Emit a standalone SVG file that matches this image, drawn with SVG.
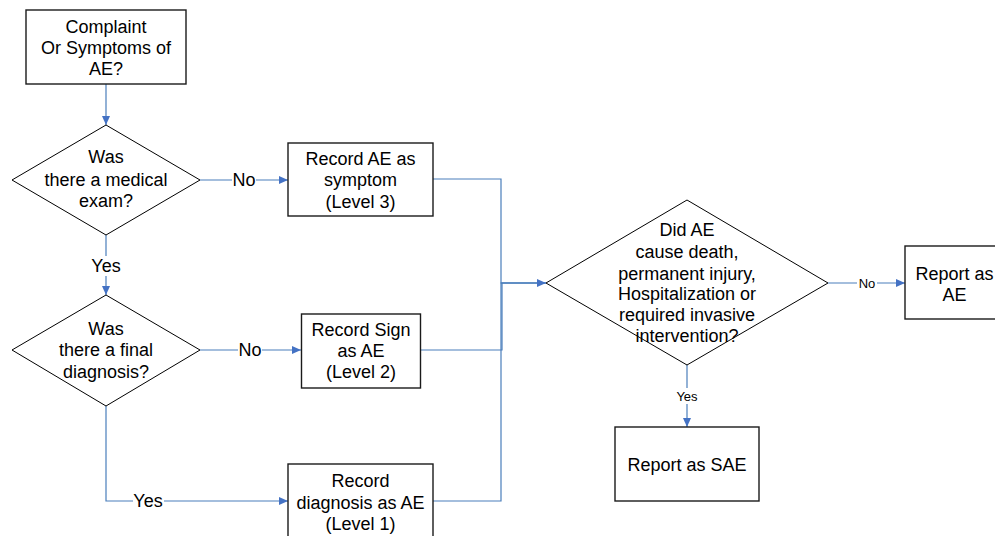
<svg xmlns="http://www.w3.org/2000/svg" width="995" height="536" viewBox="0 0 995 536">
<defs>
<style>
text{font-family:"Liberation Sans",Arial,sans-serif;font-size:18px;fill:#000;text-anchor:middle}
.sm{font-size:13px}
.box{fill:#fff;stroke:#1a1a1a;stroke-width:1.4}
.dia{fill:#fff;stroke:#000;stroke-width:1}
.c{fill:none;stroke:#4a7ebb;stroke-width:1.2}
.lb{fill:#fff;stroke:none}
</style>
<marker id="ah" markerWidth="10" markerHeight="10" refX="9" refY="5" orient="auto" markerUnits="userSpaceOnUse">
<path d="M0,1 L9,5 L0,9 Z" fill="#4472c4"/>
</marker>
</defs>
<rect width="995" height="536" fill="#fff"/>
<g id="connectors">
<path class="c" d="M106,84 V125" marker-end="url(#ah)"/>
<path class="c" d="M200,180 H288" marker-end="url(#ah)"/>
<path class="c" d="M106,235 V295" marker-end="url(#ah)"/>
<path class="c" d="M200,350 H301" marker-end="url(#ah)"/>
<path class="c" d="M106,406 V501 H288" marker-end="url(#ah)"/>
<path class="c" d="M433,179 H501 V283 H546" stroke="#95b3d7"/>
<path class="c" d="M433,501 H501 V283 H546" stroke="#95b3d7"/>
<path class="c" d="M420,350 H502 V283 H546" stroke-width="1.6" marker-end="url(#ah)"/>
<path class="c" d="M828,283 H905" stroke="#95b3d7" marker-end="url(#ah)"/>
<path class="c" d="M687,365 V427" marker-end="url(#ah)"/>
<rect class="lb" x="232" y="170" width="24" height="20"/>
<text x="244" y="186">No</text>
<rect class="lb" x="91" y="256" width="30" height="20"/>
<text x="106" y="272">Yes</text>
<rect class="lb" x="238" y="340" width="24" height="20"/>
<text x="250" y="356">No</text>
<rect class="lb" x="133" y="491" width="31" height="20"/>
<text x="148" y="507">Yes</text>
<rect class="lb" x="674" y="388" width="26" height="16"/>
<text class="sm" x="687" y="401">Yes</text>
<rect class="lb" x="857" y="275" width="20" height="16"/>
<text class="sm" x="867" y="288">No</text>
</g>
<g id="complaint">
<rect class="box" x="26" y="10" width="160" height="74"/>
<text x="106" y="33">Complaint</text>
<text x="106" y="54">Or Symptoms of</text>
<text x="106" y="75">AE?</text>
</g>
<g id="medical-exam">
<polygon class="dia" points="106,125 200,180 106,235 12,180"/>
<text x="106" y="163">Was</text>
<text x="106" y="186">there a medical</text>
<text x="106" y="207">exam?</text>
</g>
<g id="final-diagnosis">
<polygon class="dia" points="106,295 200,350 106,406 12,350"/>
<text x="106" y="335">Was</text>
<text x="106" y="356">there a final</text>
<text x="106" y="378">diagnosis?</text>
</g>
<g id="record-symptom">
<rect class="box" x="288" y="143" width="145" height="73"/>
<text x="360.5" y="165">Record AE as</text>
<text x="360.5" y="186">symptom</text>
<text x="360.5" y="208">(Level 3)</text>
</g>
<g id="record-sign">
<rect class="box" x="301.5" y="314" width="119" height="74"/>
<text x="361" y="336">Record Sign</text>
<text x="361" y="357">as AE</text>
<text x="361" y="378">(Level 2)</text>
</g>
<g id="record-diagnosis">
<rect class="box" x="288" y="464" width="145" height="80"/>
<text x="360.5" y="487">Record</text>
<text x="360.5" y="509">diagnosis as AE</text>
<text x="360.5" y="530">(Level 1)</text>
</g>
<g id="serious">
<polygon class="dia" points="687,200 828,283 687,365 546,283"/>
<text x="687" y="236">Did AE</text>
<text x="687" y="258">cause death,</text>
<text x="687" y="280">permanent injury,</text>
<text x="687" y="300">Hospitalization or</text>
<text x="687" y="321">required invasive</text>
<text x="687" y="342">intervention?</text>
</g>
<g id="report-sae">
<rect class="box" x="615" y="427" width="144" height="74"/>
<text x="687" y="471">Report as SAE</text>
</g>
<g id="report-ae">
<rect class="box" x="905" y="246" width="100" height="73"/>
<text x="954.5" y="280">Report as</text>
<text x="954.5" y="301">AE</text>
</g>
</svg>
